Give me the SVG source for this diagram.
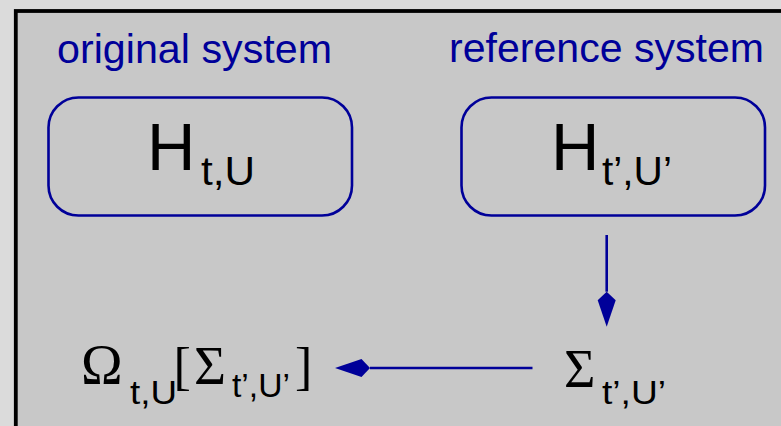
<svg xmlns="http://www.w3.org/2000/svg" width="781" height="426" viewBox="0 0 781 426">
<style>
.lbl{font-family:"Liberation Sans",Arial,sans-serif;font-size:41.5px;fill:#000099}
.box{fill:none;stroke:#000099;stroke-width:2.6}
.sans{font-family:"Liberation Sans",Arial,sans-serif;fill:#000}
.serif{font-family:"Liberation Serif","Times New Roman",serif;fill:#000}
.conn{stroke:#000099;stroke-width:2.6;fill:none}
</style>
<defs>
<marker id="kite" markerUnits="userSpaceOnUse" orient="auto" refX="0" refY="0" markerWidth="40" markerHeight="20" overflow="visible">
<path d="M0,0 L8.5,-9 L35,0 L8.5,9 Z" fill="#000099"/>
</marker>
</defs>
<rect x="0" y="0" width="781" height="426" fill="#dbdbdb"/>
<rect x="15.8" y="11" width="800" height="500" fill="#c8c8c8" stroke="#000" stroke-width="3.8"/>
<g id="original-system">
<text class="lbl" x="57" y="63" textLength="275" lengthAdjust="spacingAndGlyphs">original system</text>
<rect class="box" x="48.5" y="97.5" width="303.5" height="118" rx="30"/>
<text class="sans" x="147" y="170" font-size="67">H</text>
<text class="sans" x="201" y="185" font-size="40" textLength="54" lengthAdjust="spacingAndGlyphs">t,U</text>
</g>
<g id="reference-system">
<text class="lbl" x="449" y="62" textLength="315" lengthAdjust="spacingAndGlyphs">reference system</text>
<rect class="box" x="461.5" y="97.5" width="303.5" height="118" rx="30"/>
<text class="sans" x="551" y="170" font-size="67">H</text>
<text class="sans" x="602" y="185" font-size="40" textLength="70" lengthAdjust="spacingAndGlyphs">t’,U’</text>
</g>
<g id="sigma">
<text class="serif" x="564" y="386.5" font-size="54">Σ</text>
<text class="sans" x="602" y="404" font-size="34" textLength="64" lengthAdjust="spacingAndGlyphs">t’,U’</text>
</g>
<g id="omega">
<text class="serif" x="81" y="384" font-size="56">Ω</text>
<text class="sans" x="130" y="404" font-size="34" textLength="47" lengthAdjust="spacingAndGlyphs">t,U</text>
<text class="serif" x="173.5" y="384" font-size="52">[</text>
<text class="serif" x="194" y="383.5" font-size="55">Σ</text>
<text class="sans" x="232" y="397" font-size="33" textLength="58" lengthAdjust="spacingAndGlyphs">t’,U’</text>
<text class="serif" x="295" y="384" font-size="52">]</text>
</g>
<g id="connectors">
<line class="conn" x1="606.7" y1="235" x2="606.7" y2="291.7" marker-end="url(#kite)"/>
<line class="conn" x1="532.5" y1="368" x2="370" y2="368" marker-end="url(#kite)"/>
</g>
</svg>
